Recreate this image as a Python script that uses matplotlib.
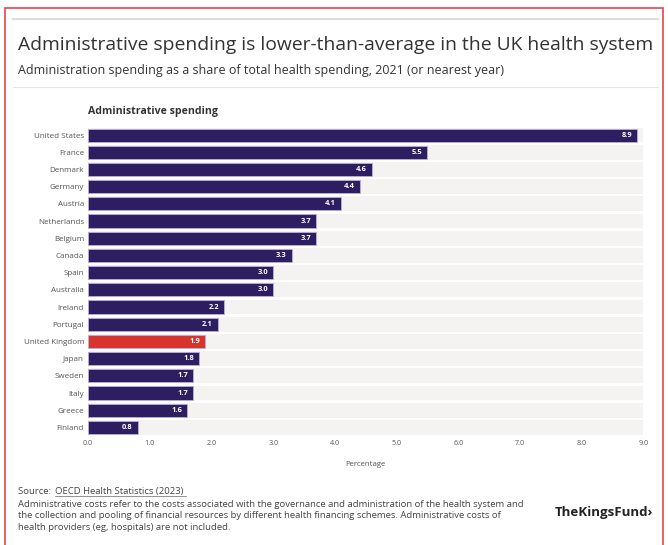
import matplotlib.pyplot as plt
import numpy as np
from matplotlib.patches import Rectangle
from matplotlib.lines import Line2D

countries = ['United States', 'France', 'Denmark', 'Germany', 'Austria', 'Netherlands',
             'Belgium', 'Canada', 'Spain', 'Australia', 'Ireland', 'Portugal',
             'United Kingdom', 'Japan', 'Sweden', 'Italy', 'Greece', 'Finland']
share = [8.9, 5.5, 4.6, 4.4, 4.1, 3.7, 3.7, 3.3, 3.0, 3.0, 2.2, 2.1, 1.9, 1.8, 1.7, 1.7, 1.6, 0.8]
highlight = 'United Kingdom'
xticks = [0, 1, 2, 3, 4, 5, 6, 7, 8, 9]

purple = '#2d1e62'
red = '#d6342c'
band = '#f5f3f1'

plt.rcParams['font.family'] = ['Open Sans', 'DejaVu Sans']

fig = plt.figure(figsize=(6.68, 5.45), dpi=100)
ax = fig.add_axes([0.132, 0.2, 0.831, 0.568])

y = np.arange(len(countries))
xmax = xticks[-1]
# faint row bands behind every bar
ax.barh(y, [xmax] * len(y), height=0.86, color=band, zorder=0)
colors = [red if c == highlight else purple for c in countries]
bars = ax.barh(y, share, height=0.76, color=colors, edgecolor='#b9b0d6',
               linewidth=0.6, zorder=2)
for b, v in zip(bars, share):
    ax.text(b.get_width() - 0.08, b.get_y() + b.get_height() / 2, f'{v:.1f}',
            ha='right', va='center', color='white', fontsize=5.4, fontweight='bold', zorder=3)

ax.set_ylim(len(countries) - 0.5, -0.5)
ax.set_xlim(0, xmax)
ax.set_yticks(y)
ax.set_yticklabels(countries, fontsize=5.8, color='#555555')
ax.set_xticks(xticks)
ax.set_xticklabels([f'{t:.1f}' for t in xticks], fontsize=5.2, color='#555555')
ax.tick_params(length=0, pad=3)
for s in ax.spines.values():
    s.set_visible(False)
ax.set_xlabel('Percentage', fontsize=5.6, color='#555555', labelpad=10)

# header
fig.text(0.027, 0.918, 'Administrative spending is lower-than-average in the UK health system',
         fontsize=13.9, color='#333333', va='center')
fig.text(0.027, 0.871, 'Administration spending as a share of total health spending, 2021 (or nearest year)',
         fontsize=9.0, color='#333333', va='center')
fig.text(0.132, 0.795, 'Administrative spending', fontsize=7.6, fontweight='bold',
         color='#333333', va='center')

fig.add_artist(Line2D([0.02, 0.985], [0.965, 0.965], color='#dddddd', lw=1.5))
fig.add_artist(Line2D([0.02, 0.985], [0.84, 0.84], color='#e4e4e4', lw=0.8))

# footer
fs = 6.8
fig.text(0.027, 0.099, 'Source: ', fontsize=fs, color='#444444', va='center')
fig.text(0.082, 0.099, 'OECD Health Statistics (2023)', fontsize=fs,
         color='#444444', va='center')
fig.add_artist(Line2D([0.082, 0.279], [0.089, 0.089], color='#666666', lw=0.5))
note = ('Administrative costs refer to the costs associated with the governance and administration of the health system and\n'
        'the collection and pooling of financial resources by different health financing schemes. Administrative costs of\n'
        'health providers (eg, hospitals) are not included.')
fig.text(0.027, 0.082, note, fontsize=fs, color='#444444', va='top', linespacing=1.3)
fig.text(0.83, 0.06, 'TheKingsFund\u203a', fontsize=9.5, fontweight='bold', color='#222222',
         va='center')

# outer frame
fig.add_artist(Rectangle((0.007, -0.02), 0.986, 1.005, fill=False, edgecolor='#e8434e',
                         lw=1.2, transform=fig.transFigure))

fig.savefig('out.png', dpi=100, facecolor='white')
